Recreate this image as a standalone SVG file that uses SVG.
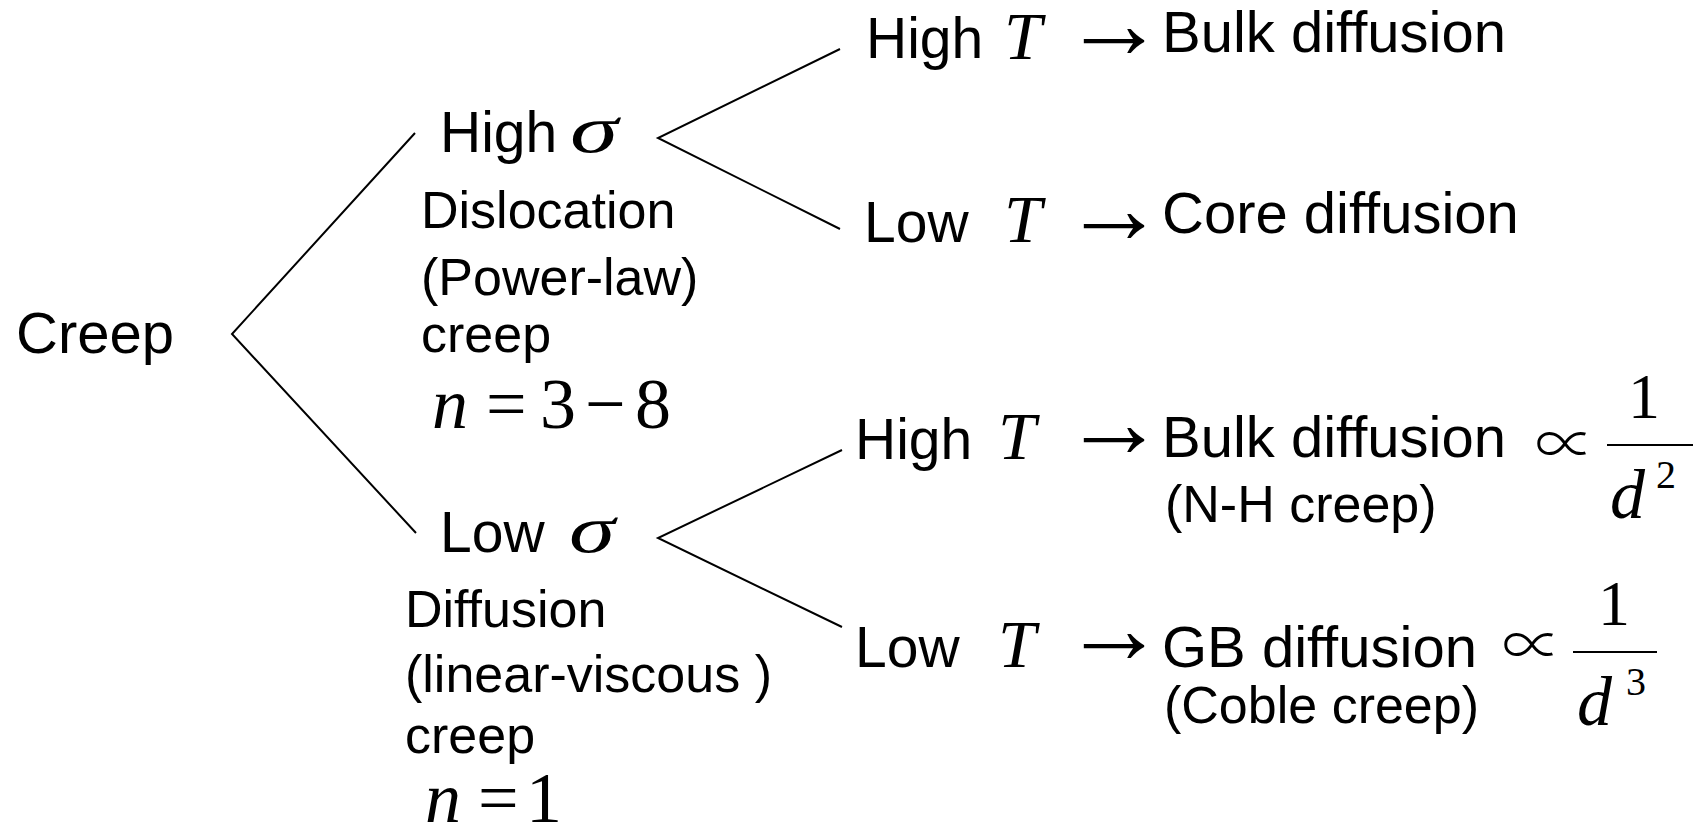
<svg xmlns="http://www.w3.org/2000/svg" width="1700" height="830" viewBox="0 0 1700 830">
<style>
text{fill:#000}
.s{font-family:"Liberation Sans",Arial,sans-serif}
.m{font-size:57px}
.mb{font-size:58px}
.sm{font-size:52px}
.i{font-family:"Liberation Serif","Times New Roman",serif;font-style:italic}
.r{font-family:"Liberation Serif","Times New Roman",serif}
.ar{font-family:"Liberation Serif",serif;font-size:102px}
.pr{font-family:"Noto Sans CJK JP","DejaVu Serif",serif;font-size:60px;font-weight:300}
.ln{stroke:#000;stroke-width:2;fill:none}
</style>
<rect width="1700" height="830" fill="#fff"/>
<g id="connectors">
<polyline class="ln" points="415,133 232,334 416,533"/>
<polyline class="ln" points="840,49 658,138 840,229"/>
<polyline class="ln" points="842,450 658,538 842,627"/>
<line class="ln" x1="1607" y1="445" x2="1693" y2="445"/>
<line class="ln" x1="1573" y1="652" x2="1657" y2="652"/>
</g>
<g id="node-creep">
<text class="s mb" x="16" y="353">Creep</text>
</g>
<g id="node-high-sigma">
<text class="s m" x="440" y="152">High</text>
<text class="i" font-size="68" x="570" y="152" textLength="48" lengthAdjust="spacingAndGlyphs">σ</text>
<text class="s sm" x="421" y="228">Dislocation</text>
<text class="s sm" x="421" y="295">(Power-law)</text>
<text class="s sm" x="421" y="352">creep</text>
<text class="i" font-size="72" x="432" y="428">n</text>
<text class="r" font-size="72" x="486" y="428">=</text>
<text class="r" font-size="72" x="540" y="428">3</text>
<text class="r" font-size="72" x="585" y="428">−</text>
<text class="r" font-size="72" x="635" y="428">8</text>
</g>
<g id="node-low-sigma">
<text class="s m" x="440" y="552">Low</text>
<text class="i" font-size="68" x="569" y="552" textLength="46" lengthAdjust="spacingAndGlyphs">σ</text>
<text class="s sm" x="405" y="627">Diffusion</text>
<text class="s sm" x="405" y="692">(linear-viscous )</text>
<text class="s sm" x="405" y="753">creep</text>
<text class="i" font-size="72" x="425" y="822">n</text>
<text class="r" font-size="72" x="478" y="822">=</text>
<text class="r" font-size="72" x="526" y="822">1</text>
</g>
<g id="node-high-T-bulk">
<text class="s m" x="866" y="58">High</text>
<text class="i" font-size="68" x="1004" y="59">T</text>
<text class="ar" x="1063" y="58">→</text>
<text class="s mb" x="1162" y="52">Bulk diffusion</text>
</g>
<g id="node-low-T-core">
<text class="s m" x="864" y="242">Low</text>
<text class="i" font-size="68" x="1004" y="242">T</text>
<text class="ar" x="1063" y="243">→</text>
<text class="s mb" x="1162" y="233">Core diffusion</text>
</g>
<g id="node-high-T-nh">
<text class="s m" x="855" y="459">High</text>
<text class="i" font-size="68" x="998" y="459">T</text>
<text class="ar" x="1063" y="457">→</text>
<text class="s mb" x="1162" y="457">Bulk diffusion</text>
<text class="s sm" x="1165" y="522">(N-H creep)</text>
<text class="pr" x="1535" y="466">∝</text>
<text class="r" font-size="64" x="1628" y="418">1</text>
<text class="i" font-size="70" x="1610" y="518">d</text>
<text class="r" font-size="40" x="1656" y="488">2</text>
</g>
<g id="node-low-T-coble">
<text class="s m" x="855" y="667">Low</text>
<text class="i" font-size="68" x="998" y="667">T</text>
<text class="ar" x="1063" y="663">→</text>
<text class="s mb" x="1162" y="667">GB diffusion</text>
<text class="s sm" x="1164" y="723">(Coble creep)</text>
<text class="pr" x="1502" y="667">∝</text>
<text class="r" font-size="64" x="1598" y="625">1</text>
<text class="i" font-size="70" x="1577" y="725">d</text>
<text class="r" font-size="40" x="1626" y="695">3</text>
</g>
</svg>
